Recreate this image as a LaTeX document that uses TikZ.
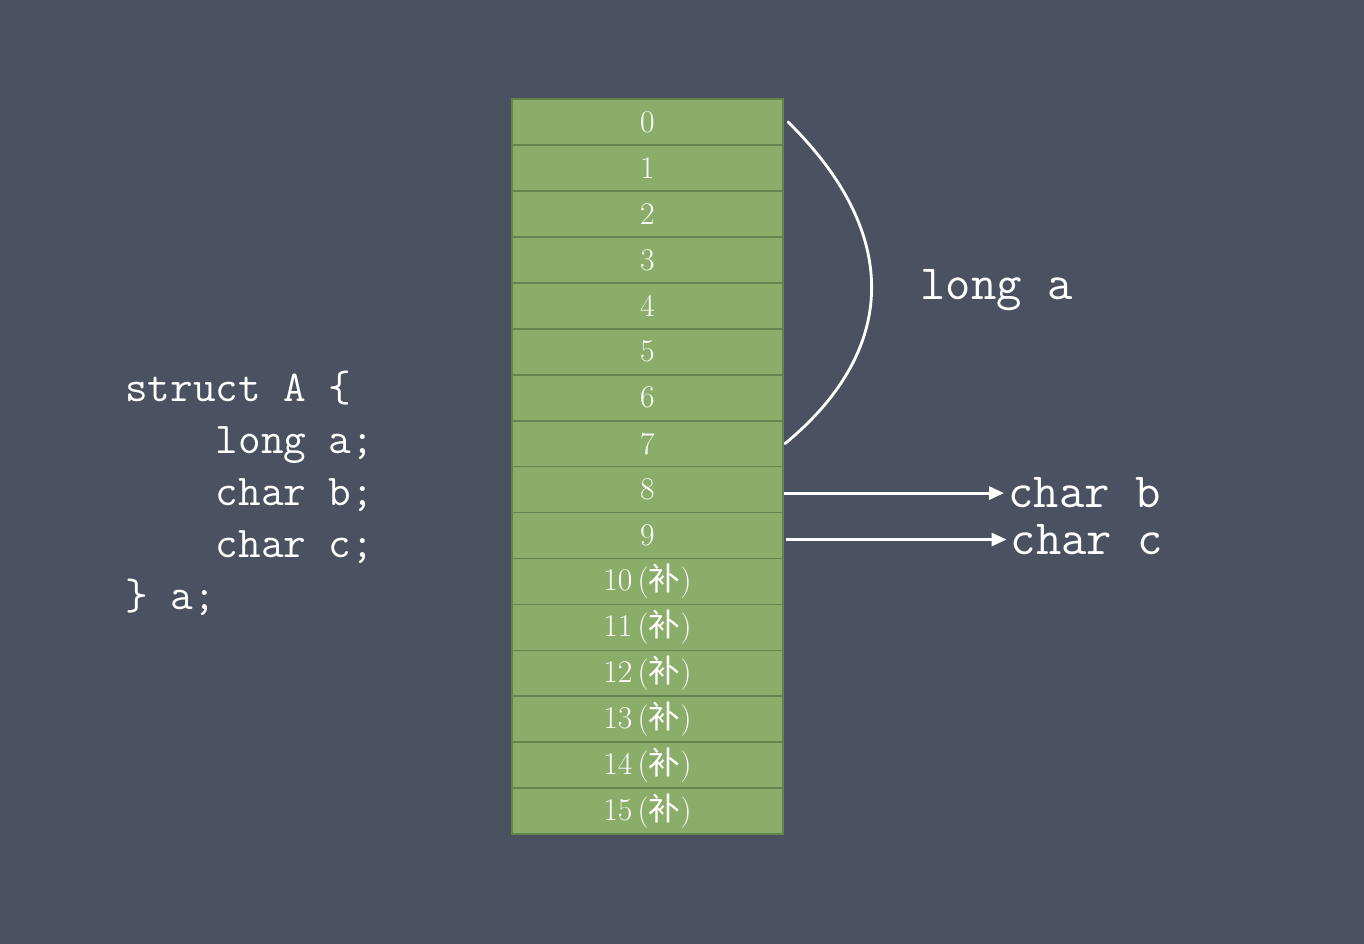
\documentclass[tikz,border=0pt]{standalone}
\usepackage{fontspec}
\newfontfamily\cjk{Noto Sans CJK SC}
\usetikzlibrary{arrows.meta, positioning}
\definecolor{board}{RGB}{74,82,97}
\definecolor{cellgreen}{RGB}{138,174,106}
\definecolor{celledge}{RGB}{100,132,78}

\begin{document}
\begin{tikzpicture}[
    node distance=0pt,
    cell/.style={rectangle, draw=celledge, line width=1pt, fill=cellgreen, outer sep=0pt, inner sep=0pt, minimum width=5.42cm, minimum height=0.919cm, text=white, font=\fontsize{18}{20}\selectfont},
    code/.style={align=left, text=white, inner sep=0pt, font=\ttfamily\fontsize{25}{29.6}\selectfont},
    lbl/.style={text=white, inner sep=0pt, font=\ttfamily\fontsize{28}{30}\selectfont},
    chalk/.style={white, line width=1.6pt, line cap=round},
    arrow/.style={-{Triangle[length=0.3cm, width=0.26cm]}, white, line width=1.6pt}
]

% --- Fundo (quadro negro) ---
\fill[board] (0,0) rectangle (27.28,18.88);

% --- Codigo da struct ---
\node[code, anchor=north west] (src) at (2.5,11.47)
    {struct A \{\\
    \phantom{xxxx}long a;\\
    \phantom{xxxx}char b;\\
    \phantom{xxxx}char c;\\
    \} a;};

% --- Bytes da memoria ---
\node[cell] (c0) at (12.95,16.44) {0};
\node[cell, below=of c0] (c1) {1};
\node[cell, below=of c1] (c2) {2};
\node[cell, below=of c2] (c3) {3};
\node[cell, below=of c3] (c4) {4};
\node[cell, below=of c4] (c5) {5};
\node[cell, below=of c5] (c6) {6};
\node[cell, below=of c6] (c7) {7};
\node[cell, below=of c7] (c8) {8};
\node[cell, below=of c8] (c9) {9};
\node[cell, below=of c9] (c10) {10\,({\cjk 补})};
\node[cell, below=of c10] (c11) {11\,({\cjk 补})};
\node[cell, below=of c11] (c12) {12\,({\cjk 补})};
\node[cell, below=of c12] (c13) {13\,({\cjk 补})};
\node[cell, below=of c13] (c14) {14\,({\cjk 补})};
\node[cell, below=of c14] (c15) {15\,({\cjk 补})};

% --- Rotulos dos membros ---
\node[lbl, anchor=west] (la) at (18.4,13.08) {long a};
\node[lbl, anchor=west, right=4.5cm of c8.east, yshift=-0.07cm] (lb) {char b};
\node[lbl, anchor=west, right=4.55cm of c9.east, yshift=-0.08cm] (lc) {char c};

% === Ligacoes ===
\draw[chalk] ([xshift=0.1cm]c0.east) .. controls +(2.24,-2.2) and +(2.3,1.9) .. ([xshift=0.04cm]c7.east);
\draw[arrow, shorten >=0.08cm] ([xshift=0.02cm]c8.east |- lb.west) -- (lb.west);
\draw[arrow, shorten >=0.08cm] ([xshift=0.06cm]c9.east |- lc.west) -- (lc.west);

\end{tikzpicture}
\end{document}
